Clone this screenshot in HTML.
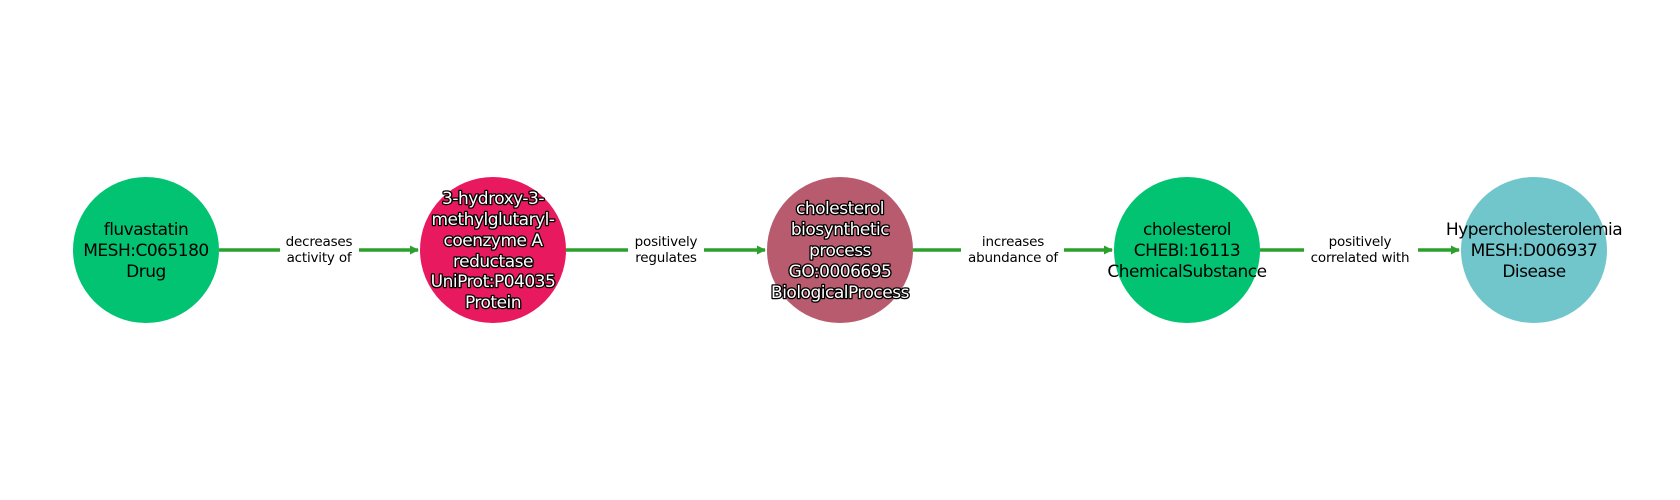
<!DOCTYPE html>
<html><head><meta charset="utf-8"><style>
html,body{margin:0;padding:0;background:#fff;}
svg{display:block;}
.n{font-family:"DejaVu Sans","Liberation Sans",sans-serif;font-size:17px;letter-spacing:-0.5px;text-anchor:middle;fill:#000;}
.w{fill:#fff;stroke:#000;stroke-width:2.6px;paint-order:stroke;stroke-linejoin:round;}
.e{font-family:"DejaVu Sans","Liberation Sans",sans-serif;font-size:13.5px;letter-spacing:-0.2px;text-anchor:middle;fill:#000;}
</style></head><body>
<svg width="1680" height="500" viewBox="0 0 1680 500" xmlns="http://www.w3.org/2000/svg">
<defs><marker id="a" markerWidth="10" markerHeight="10" refX="8" refY="5" orient="auto" markerUnits="userSpaceOnUse"><path d="M0,0.5 L9,5 L0,9.5 Z" fill="#2ca02c"/></marker></defs>
<g stroke="#2ca02c" stroke-width="3.4" fill="none">
<line x1="219" y1="250" x2="418" y2="250" marker-end="url(#a)"/>
<line x1="566" y1="250" x2="765" y2="250" marker-end="url(#a)"/>
<line x1="913" y1="250" x2="1112" y2="250" marker-end="url(#a)"/>
<line x1="1260" y1="250" x2="1459" y2="250" marker-end="url(#a)"/>
</g>
<g fill="#fff">
<rect x="280" y="232" width="79" height="36"/>
<rect x="628" y="232" width="76" height="36"/>
<rect x="961" y="232" width="103" height="36"/>
<rect x="1304" y="232" width="114" height="36"/>
</g>
<circle cx="146" cy="250" r="73" fill="#02c372"/>
<circle cx="493" cy="250" r="73" fill="#e8195f"/>
<circle cx="840" cy="250" r="73" fill="#b85b6e"/>
<circle cx="1187" cy="250" r="73" fill="#02c372"/>
<circle cx="1534" cy="250" r="73" fill="#71c6cb"/>
<g class="n">
<text x="146" y="235">fluvastatin</text><text x="146" y="256">MESH:C065180</text><text x="146" y="277">Drug</text>
</g>
<g class="n w">
<text x="493" y="204">3-hydroxy-3-</text><text x="493" y="225">methylglutaryl-</text><text x="493" y="246">coenzyme A</text><text x="493" y="267">reductase</text><text x="493" y="287">UniProt:P04035</text><text x="493" y="308">Protein</text>
<text x="840" y="214">cholesterol</text><text x="840" y="235">biosynthetic</text><text x="840" y="256">process</text><text x="840" y="277">GO:0006695</text><text x="840" y="298">BiologicalProcess</text>
</g>
<g class="n">
<text x="1187" y="235">cholesterol</text><text x="1187" y="256">CHEBI:16113</text><text x="1187" y="277">ChemicalSubstance</text>
<text x="1534" y="235">Hypercholesterolemia</text><text x="1534" y="256">MESH:D006937</text><text x="1534" y="277">Disease</text>
</g>
<g class="e">
<text x="319" y="246">decreases</text><text x="319" y="262">activity of</text>
<text x="666" y="246">positively</text><text x="666" y="262">regulates</text>
<text x="1013" y="246">increases</text><text x="1013" y="262">abundance of</text>
<text x="1360" y="246">positively</text><text x="1360" y="262">correlated with</text>
</g>
</svg>
</body></html>
